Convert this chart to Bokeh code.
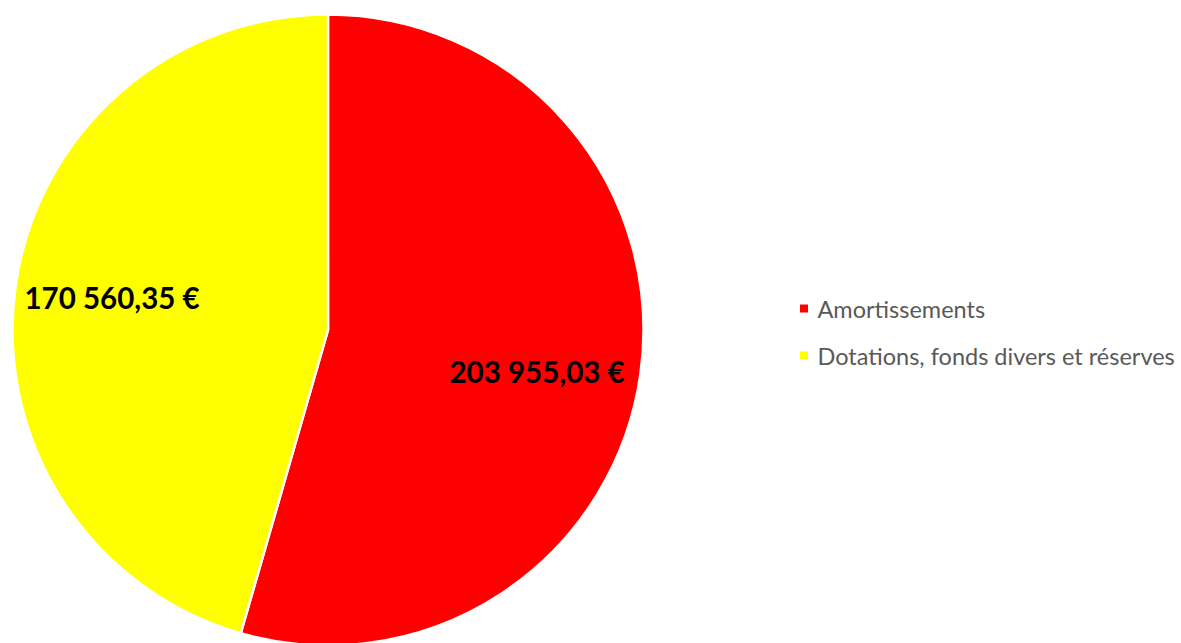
import math
from bokeh.plotting import figure
from bokeh.models import Range1d
from bokeh.core.properties import value
from bokeh.embed import file_html
from bokeh.resources import INLINE

# ---- data ----
categories = ["Amortissements", "Dotations, fonds divers et réserves"]
amounts = [203955.03, 170560.35]
labels = ["203 955,03 €", "170 560,35 €"]
colors = ["#FF0000", "#FFFF00"]

W, H = 1181, 643
p = figure(width=W, height=H, output_backend="svg", toolbar_location=None,
           x_range=Range1d(0, W), y_range=Range1d(0, H), min_border=0)
p.axis.visible = False
p.grid.visible = False
p.outline_line_color = None
p.background_fill_color = "white"

def sx(x):  # screen px -> data
    return x
def sy(y):
    return H - y

cx, cy, r = sx(327.5), sy(329.5), 315.5
total = sum(amounts)
start = math.pi / 2
starts, ends = [], []
for a in amounts:
    ang = 2 * math.pi * a / total
    starts.append(start - ang)
    ends.append(start)
    start -= ang

p.wedge(x=[cx] * len(amounts), y=[cy] * len(amounts), radius=r,
        start_angle=starts, end_angle=ends, fill_color=colors,
        line_color="white", line_width=2.5)

# data labels
lab_x = [sx(449), sx(24)]
lab_y = [sy(371), sy(297)]
p.text(x=lab_x, y=lab_y, text=labels, text_font=value("Lato"),
       text_font_style="bold", text_font_size="29.5px", text_color="black",
       text_align="left", text_baseline="middle")

# legend
leg_y = [sy(308), sy(355)]
p.scatter(x=[sx(803.5)] * 2, y=leg_y, marker="square", size=8,
          fill_color=colors, line_color=None)
p.text(x=[sx(817)] * 2, y=leg_y, text=categories, text_font=value("Lato"),
       text_font_size="23.5px", text_color="#595959",
       text_align="left", text_baseline="middle")

open("out.html", "w").write(file_html(p, INLINE))
